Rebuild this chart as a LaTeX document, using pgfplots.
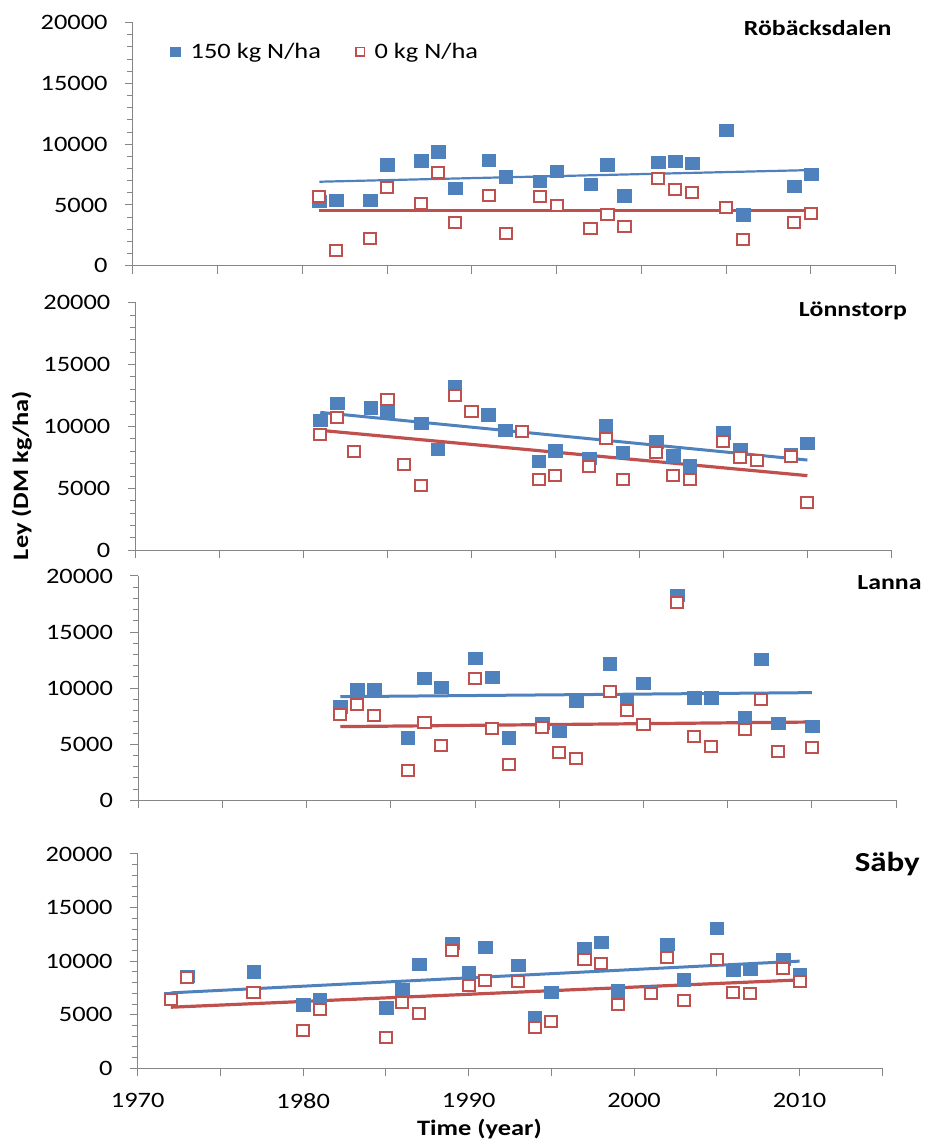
\documentclass[border=0pt]{standalone}
\usepackage{fontspec}
\setmainfont[FakeStretch=1.2]{Carlito}
\usepackage{pgfplots}
\usepackage{pgfplotstable}
\pgfplotsset{compat=1.18}

\definecolor{nblue}{HTML}{4F81BD}
\definecolor{nred}{HTML}{C0504D}
\definecolor{axgray}{HTML}{868686}

% Röbäcksdalen: yield (kg DM/ha) with 150 and 0 kg N/ha
\pgfplotstableread{
year  n150   n0
1981  5320   5730
1982  5400   1290
1984  5400   2220
1985  8300   6450
1987  8640   5130
1988  9380   7630
1989  6360   3540
1991  8700   5790
1992  7330   2660
1994  6970   5680
1995  7800   4940
1997  6720   3020
1998  8300   4200
1999  5760   3210
2001  8530   7160
2002  8600   6230
2003  8450   6040
2005  11170  4770
2006  4200   2170
2009  6560   3540
2010  7520   4310
}\robdata

% Lönnstorp, 150 kg N/ha
\pgfplotstableread{
year  y
1981  10520
1982  11870
1984  11520
1985  11250
1987  10260
1988  8180
1989  13200
1991  10960
1992  9720
1994  7210
1995  8050
1997  7460
1998  10070
1999  7910
2001  8780
2002  7640
2003  6840
2005  9500
2006  8180
2009  7780
2010  8640
}\lonhigh

% Lönnstorp, 0 kg N/ha
\pgfplotstableread{
year  y
1981  9390
1982  10740
1983  7970
1985  12220
1986  6940
1987  5220
1989  12540
1990  11200
1993  9580
1994  5730
1995  6080
1997  6760
1998  9070
1999  5730
2001  7890
2002  6080
2003  5680
2005  8800
2006  7480
2007  7240
2009  7540
2010  3880
}\lonlow

% Lanna
\pgfplotstableread{
year  n150   n0
1982  8350   7670
1983  9930   8500
1984  9930   7550
1986  5590   2700
1987  10880  6950
1988  10100  4930
1990  12660  10820
1991  10970  6420
1992  5590   3150
1994  6860   6450
1995  6180   4280
1996  8860   3740
1998  12180  9660
1999  8950   7990
2000  10430  6800
2002  18300  17650
2003  9150   5700
2004  9150   4840
2006  7430   6270
2007  12570  8970
2008  6890   4310
2010  6630   4750
}\landata

% Säby
\pgfplotstableread{
year  n150   n0
1972  6500   6450
1973  8600   8500
1977  9000   7100
1980  5950   3500
1981  6450   5500
1985  5670   2900
1986  7350   6100
1987  9700   5100
1989  11650  11000
1990  8940   7700
1991  11280  8200
1993  9600   8100
1994  4730   3800
1995  7130   4400
1997  11150  10200
1998  11780  9800
1999  7230   6000
2001  7130   7000
2002  11600  10300
2003  8260   6350
2005  13050  10200
2006  9130   7100
2007  9250   6950
2009  10200  9300
2010  8750   8100
}\sabdata

\newcommand{\tickfont}{\fontsize{22}{24}\selectfont}

\pgfplotsset{
  panel/.style={
    scale only axis, clip=false,
    xmin=1970, xmax=2015, ymin=0, ymax=20000,
    axis lines=left,
    axis line style={draw=axgray, line width=1pt, -},
    tick align=outside,
    major tick length=8pt, minor tick length=5.5pt,
    tick style={draw=axgray, line width=1pt},
    xtick={1970,1975,...,2015}, xticklabels={},
    ytick={0,5000,...,20000}, minor y tick num=4,
    scaled y ticks=false,
    /pgf/number format/1000 sep={},
    /pgf/number format/assume math mode=true,
    ticklabel style={font=\tickfont},
    yticklabel style={anchor=east, inner sep=0pt, xshift=-17pt},
  },
  hi/.style={only marks, color=nblue, mark=square*, mark size=6.2pt,
    mark options={draw=nblue, fill=nblue, xscale=1.1},
    legend image code/.code={\draw[##1, mark size=4.7pt] plot coordinates {(4.7pt,0pt)};}},
  lo/.style={only marks, color=nred, mark=square*, mark size=5.5pt,
    mark options={draw=nred, fill=white, line width=2pt, xscale=1.1},
    legend image code/.code={\draw[##1, mark size=4.3pt, mark options={draw=nred, fill=white, line width=1.3pt}] plot coordinates {(4.7pt,0pt)};}},
  hitrend/.style={color=nblue, line width=3pt, no marks, forget plot},
  lotrend/.style={color=nred, line width=3.2pt, no marks, forget plot},
}

\begin{document}
\begin{tikzpicture}[x=1pt, y=1pt]
\useasboundingbox (0pt,0pt) rectangle (928pt,1146pt);

% Röbäcksdalen
\begin{axis}[panel, at={(132.8pt,880.3pt)}, anchor=south west,
  width=762.9pt, height=243pt,
  legend style={draw=none, fill=none, inner sep=0pt, outer sep=0pt,
    at={(0.0492,0.8800)}, anchor=west, legend columns=2,
    font=\tickfont, nodes={inner sep=0pt},
    /tikz/every odd column/.append style={column sep=10pt},
    /tikz/every even column/.append style={column sep=35pt}},
  legend cell align=left]
  \addplot[hi] table[x=year, y=n150] {\robdata};
  \addlegendentry{150 kg N/ha}
  \addplot[lo] table[x=year, y=n0] {\robdata};
  \addlegendentry{0 kg N/ha}
  \addplot[hitrend, line width=2.2pt] coordinates {(1981,6910) (2010,7870)};
  \addplot[lotrend] coordinates {(1981,4530) (2010,4530)};
\end{axis}

% Lönnstorp
\begin{axis}[panel, at={(135.5pt,595.7pt)}, anchor=south west,
  width=755.9pt, height=247.6pt]
  \addplot[hi] table[x=year, y=y] {\lonhigh};
  \addplot[lo] table[x=year, y=y] {\lonlow};
  \addplot[hitrend] coordinates {(1981,11140) (2010,7290)};
  \addplot[lotrend] coordinates {(1981,9690) (2010,6030)};
\end{axis}

% Lanna
\begin{axis}[panel, at={(138.1pt,345.7pt)}, anchor=south west,
  width=758.1pt, height=224.3pt]
  \addplot[hi] table[x=year, y=n150] {\landata};
  \addplot[lo] table[x=year, y=n0] {\landata};
  \addplot[hitrend] coordinates {(1982,9240) (2010,9600)};
  \addplot[lotrend] coordinates {(1982,6570) (2010,6980)};
\end{axis}

% Säby
\begin{axis}[panel, at={(137.7pt,77.7pt)}, anchor=south west,
  width=744.6pt, height=214.3pt,
  xticklabels={1970,,1980,,1990,,2000,,2010,},
  xticklabel style={anchor=north, inner sep=0pt, yshift=-16.5pt}]
  \addplot[hi] table[x=year, y=n150] {\sabdata};
  \addplot[lo] table[x=year, y=n0] {\sabdata};
  \addplot[hitrend] coordinates {(1972,7040) (2010,10000)};
  \addplot[lotrend] coordinates {(1972,5700) (2010,8250)};
\end{axis}

% site names
\node[anchor=base east, inner sep=0pt, font=\fontsize{21.5}{24}\selectfont\bfseries] at (891.7pt,1110.5pt) {Röbäcksdalen};
\node[anchor=base east, inner sep=0pt, font=\fontsize{21.5}{24}\selectfont\bfseries] at (907pt,829.5pt) {Lönnstorp};
\node[anchor=base east, inner sep=0pt, font=\fontsize{21.5}{24}\selectfont\bfseries] at (921.7pt,556pt) {Lanna};
\node[anchor=base east, inner sep=0pt, font=\fontsize{27.5}{30}\selectfont\bfseries] at (920pt,274.4pt) {Säby};

% axis titles
\node[rotate=90, anchor=base, inner sep=0pt, font=\fontsize{22}{24}\selectfont\bfseries] at (28pt,670.5pt) {Ley (DM kg/ha)};
\node[anchor=base, inner sep=0pt, font=\fontsize{22}{24}\selectfont\bfseries] at (479.5pt,10.3pt) {Time (year)};
\end{tikzpicture}
\end{document}
